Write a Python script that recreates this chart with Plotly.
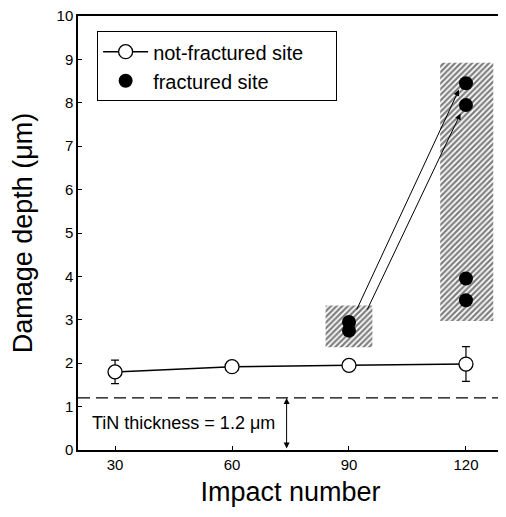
import plotly.graph_objects as go

impact = [30, 60, 90, 120]
not_fractured = [1.8, 1.92, 1.95, 1.98]
nf_err = [0.27, 0.05, 0.04, 0.4]
frac_x = [90, 90, 120, 120, 120, 120]
frac_y = [2.95, 2.75, 8.45, 7.95, 3.95, 3.45]
tin_thickness = 1.2
x_ticks = [30, 60, 90, 120]
y_ticks = list(range(0, 11))

# hatched regions (x0, x1, y0, y1)
regions = [(84, 96, 2.37, 3.33), (113.4, 127, 2.97, 8.92)]

FONT = "Liberation Sans, Arial, sans-serif"
fig = go.Figure()

for (x0, x1, y0, y1) in regions:
    fig.add_trace(go.Scatter(
        x=[x0, x1, x1, x0, x0], y=[y0, y0, y1, y1, y0],
        mode="lines", line=dict(width=0), fill="toself",
        fillcolor="rgba(0,0,0,0)",
        fillpattern=dict(shape="/", fgcolor="black", bgcolor="white", size=4, solidity=0.55),
        showlegend=False, hoverinfo="skip"))

fig.add_trace(go.Scatter(
    x=impact, y=not_fractured, mode="lines+markers", name="not-fractured site\u00a0\u00a0\u00a0\u00a0\u00a0",
    line=dict(color="black", width=1.5),
    marker=dict(symbol="circle", size=14, color="white", line=dict(color="black", width=1.3)),
    error_y=dict(type="data", array=nf_err, visible=True, color="black", thickness=1.2, width=4)))

fig.add_trace(go.Scatter(
    x=frac_x, y=frac_y, mode="markers", name="fractured site",
    marker=dict(symbol="circle", size=14, color="black")))

# TiN thickness dashed line
fig.add_shape(type="line", xref="x", yref="y", x0=20.5, x1=129.5, y0=tin_thickness, y1=tin_thickness,
              line=dict(color="black", width=1.3, dash="12px,6px"))

# double arrow for thickness
fig.add_annotation(x=74, y=tin_thickness, ax=74, ay=0, xref="x", yref="y", axref="x", ayref="y",
                   text="", showarrow=True, arrowhead=2, arrowside="end+start", arrowwidth=1, arrowsize=1.2,
                   arrowcolor="black")
fig.add_annotation(x=47.6, y=0.62, xref="x", yref="y", text="TiN thickness = 1.2 μm", showarrow=False,
                   font=dict(family=FONT, size=18, color="black"))

# arrows from 90 to 120
fig.add_annotation(x=118.2, y=8.3, ax=91.8, ay=3.2, xref="x", yref="y", axref="x", ayref="y",
                   text="", showarrow=True, arrowhead=2, arrowwidth=1, arrowsize=1.2, arrowcolor="black")
fig.add_annotation(x=118.6, y=7.75, ax=94.5, ay=3.2, xref="x", yref="y", axref="x", ayref="y",
                   text="", showarrow=True, arrowhead=2, arrowwidth=1, arrowsize=1.2, arrowcolor="black")

axis_common = dict(showline=True, linecolor="black", linewidth=1.5, mirror=True, ticks="inside",
                   ticklen=4, tickcolor="black", showgrid=False, zeroline=False, automargin=False,
                   ticklabeloverflow="allow",
                   tickfont=dict(family=FONT, size=15, color="black"))
fig.update_xaxes(range=[20.5, 129.5], tickvals=x_ticks,
                 title=dict(text="Impact number", font=dict(family=FONT, size=27, color="black"), standoff=10),
                 **axis_common)
fig.update_yaxes(range=[0, 10], tickvals=y_ticks,
                 title=dict(text="Damage depth (μm)", font=dict(family=FONT, size=27, color="black"), standoff=26),
                 **axis_common)

# page body has an 8px margin, so the figure is sized/offset to compensate
fig.update_layout(
    width=498, height=509, margin=dict(l=70, r=3, t=8, b=67),
    plot_bgcolor="white", paper_bgcolor="white",
    legend=dict(x=0.045, y=0.965, xanchor="left", yanchor="top", bordercolor="black", borderwidth=1,
                bgcolor="white", font=dict(family=FONT, size=20, color="black"),
                tracegroupgap=0, itemwidth=45),
)

fig.write_html("out.html")
